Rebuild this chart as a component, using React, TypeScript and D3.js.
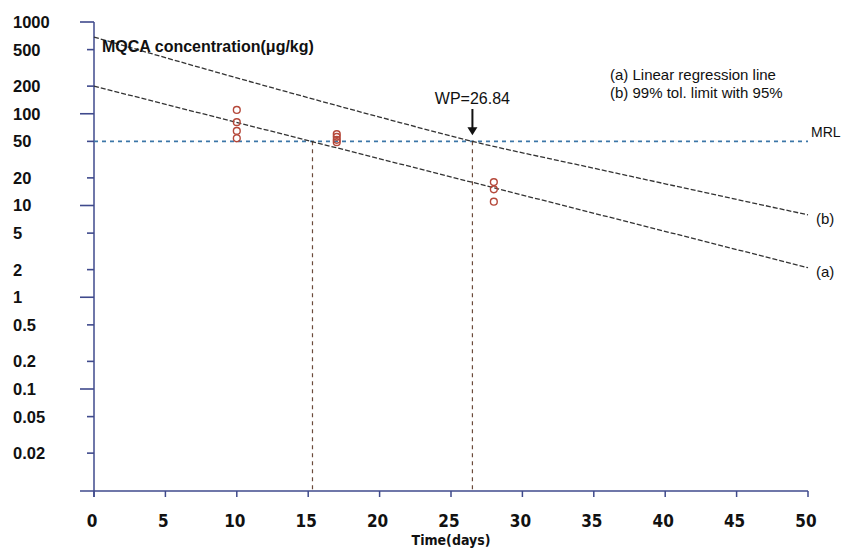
import React from "react";
import * as d3 from "d3";

const width = 844;
const height = 550;
const margin = { top: 22, left: 95, right: 36 };
const axisY = 491;
const axisBlue = "#3f4a8c";
const pointRed = "#b5483a";
const mrlBlue = "#3d77a8";

// y axis tick values (log scale)
const yTicks = [1000, 500, 200, 100, 50, 20, 10, 5, 2, 1, 0.5, 0.2, 0.1, 0.05, 0.02];
const yDecades = [1000, 100, 10, 1, 0.1];
const xTicks = [0, 5, 10, 15, 20, 25, 30, 35, 40, 45, 50];

// (a) linear regression line
const regDays = [0, 50];
const regValues = [200, 2.1];

// (b) 99% tolerance limit with 95% confidence
const tolDays = [0, 10, 20, 26.5, 35, 50];
const tolValues = [685, 246, 92, 50, 25.5, 7.9];

// measured residues
const sampleDays = [10, 10, 10, 10, 17, 17, 17, 17, 28, 28, 28];
const sampleValues = [110, 81, 65, 54, 60, 56, 52, 49, 18, 15, 11];

const mrl = 50;
const wpLabel = "WP=26.84";
const wpDay = 26.5;
const regCrossDay = 15.3;

const font = "'Liberation Sans', Arial, sans-serif";
const narrowFont = "'DejaVu Sans Condensed', 'Liberation Sans Narrow', 'Liberation Sans', sans-serif";

export default function App() {
  const x = d3.scaleLinear().domain([0, 50]).range([margin.left - 1, 808]);
  const y = d3.scaleLog().domain([0.01, 1000]).range([margin.top + 5 * 91.75, margin.top]);

  const line = d3
    .line<[number, number]>()
    .x(d => x(d[0]))
    .y(d => y(d[1]));
  const curve = d3
    .line<[number, number]>()
    .x(d => x(d[0]))
    .y(d => y(d[1]))
    .curve(d3.curveMonotoneX);

  const regPath = line(regDays.map((d, i) => [d, regValues[i]] as [number, number]));
  const tolPath = curve(tolDays.map((d, i) => [d, tolValues[i]] as [number, number]));

  return (
    <svg
      width={width}
      height={height}
      style={{ position: "absolute", left: 0, top: 0, background: "#fff" }}
    >
      {/* y axis */}
      <line x1={x(0)} x2={x(0)} y1={y(1000)} y2={axisY + 6} stroke={axisBlue} strokeWidth={1.5} />
      {yTicks.map(t => {
        const long = yDecades.includes(t);
        return (
          <g key={"yt" + t}>
            <line
              x1={x(0) - (long ? 14 : 7)}
              x2={x(0)}
              y1={y(t)}
              y2={y(t)}
              stroke={axisBlue}
              strokeWidth={1.6}
            />
            <text
              x={13}
              y={y(t)}
              dy="0.36em"
              fontFamily={font}
              fontWeight="bold"
              fontSize={16.5}
              fill="#111"
            >
              {String(t)}
            </text>
          </g>
        );
      })}

      {/* x axis */}
      <line x1={80} x2={x(50)} y1={axisY} y2={axisY} stroke={axisBlue} strokeWidth={1.5} />
      {xTicks.map(t => (
        <g key={"xt" + t}>
          <line x1={x(t)} x2={x(t)} y1={axisY} y2={axisY + 6} stroke={axisBlue} strokeWidth={1.5} />
          <text
            x={x(t) - 2}
            y={521}
            dy="0.36em"
            textAnchor="middle"
            fontFamily={narrowFont}
            fontWeight="bold"
            fontSize={17}
            fill="#111"
          >
            {t}
          </text>
        </g>
      ))}
      <text
        x={451}
        y={540}
        dy="0.36em"
        textAnchor="middle"
        fontFamily={narrowFont}
        fontWeight="bold"
        fontSize={14}
        fill="#111"
      >
        Time(days)
      </text>

      {/* MRL */}
      <line
        x1={x(0)}
        x2={x(50)}
        y1={y(mrl)}
        y2={y(mrl)}
        stroke={mrlBlue}
        strokeWidth={1.6}
        strokeDasharray="4,4"
      />
      <text x={811} y={y(mrl) - 4} fontFamily={font} fontSize={14} fill="#111">
        MRL
      </text>

      {/* vertical guides */}
      {[regCrossDay, wpDay].map(d => (
        <line
          key={"v" + d}
          x1={x(d)}
          x2={x(d)}
          y1={y(mrl)}
          y2={axisY}
          stroke="#6b4a3a"
          strokeWidth={1.2}
          strokeDasharray="4,4"
        />
      ))}

      {/* regression and tolerance lines */}
      <path d={regPath || ""} fill="none" stroke="#333" strokeWidth={1.3} strokeDasharray="5,2" />
      <path d={tolPath || ""} fill="none" stroke="#333" strokeWidth={1.3} strokeDasharray="5,2" />
      <text x={816} y={y(tolValues[tolValues.length - 1]) + 4} dy="0.36em" fontFamily={font} fontSize={15} fill="#111">
        (b)
      </text>
      <text x={816} y={y(regValues[regValues.length - 1]) + 4} dy="0.36em" fontFamily={font} fontSize={15} fill="#111">
        (a)
      </text>

      {/* samples */}
      {sampleDays.map((d, i) => (
        <circle
          key={"p" + i}
          cx={x(d)}
          cy={y(sampleValues[i])}
          r={3.4}
          fill="none"
          stroke={pointRed}
          strokeWidth={1.4}
        />
      ))}

      {/* WP arrow */}
      <text x={x(wpDay)} y={98} dy="0.36em" textAnchor="middle" fontFamily={font} fontSize={16} fill="#111">
        {wpLabel}
      </text>
      <line x1={x(wpDay)} x2={x(wpDay)} y1={109} y2={y(mrl) - 12} stroke="#111" strokeWidth={2} />
      <path
        d={`M${x(wpDay) - 5},${y(mrl) - 14} L${x(wpDay) + 5},${y(mrl) - 14} L${x(wpDay)},${y(mrl) - 6} Z`}
        fill="#111"
      />

      {/* title and legend */}
      <text x={102} y={46} dy="0.36em" fontFamily={font} fontWeight="bold" fontSize={16} fill="#111">
        MQCA concentration(μg/kg)
      </text>
      <text x={610} y={75} dy="0.36em" fontFamily={font} fontSize={15} fill="#111">
        (a) Linear regression line
      </text>
      <text x={610} y={93} dy="0.36em" fontFamily={font} fontSize={15} fill="#111">
        (b) 99% tol. limit with 95%
      </text>
    </svg>
  );
}
